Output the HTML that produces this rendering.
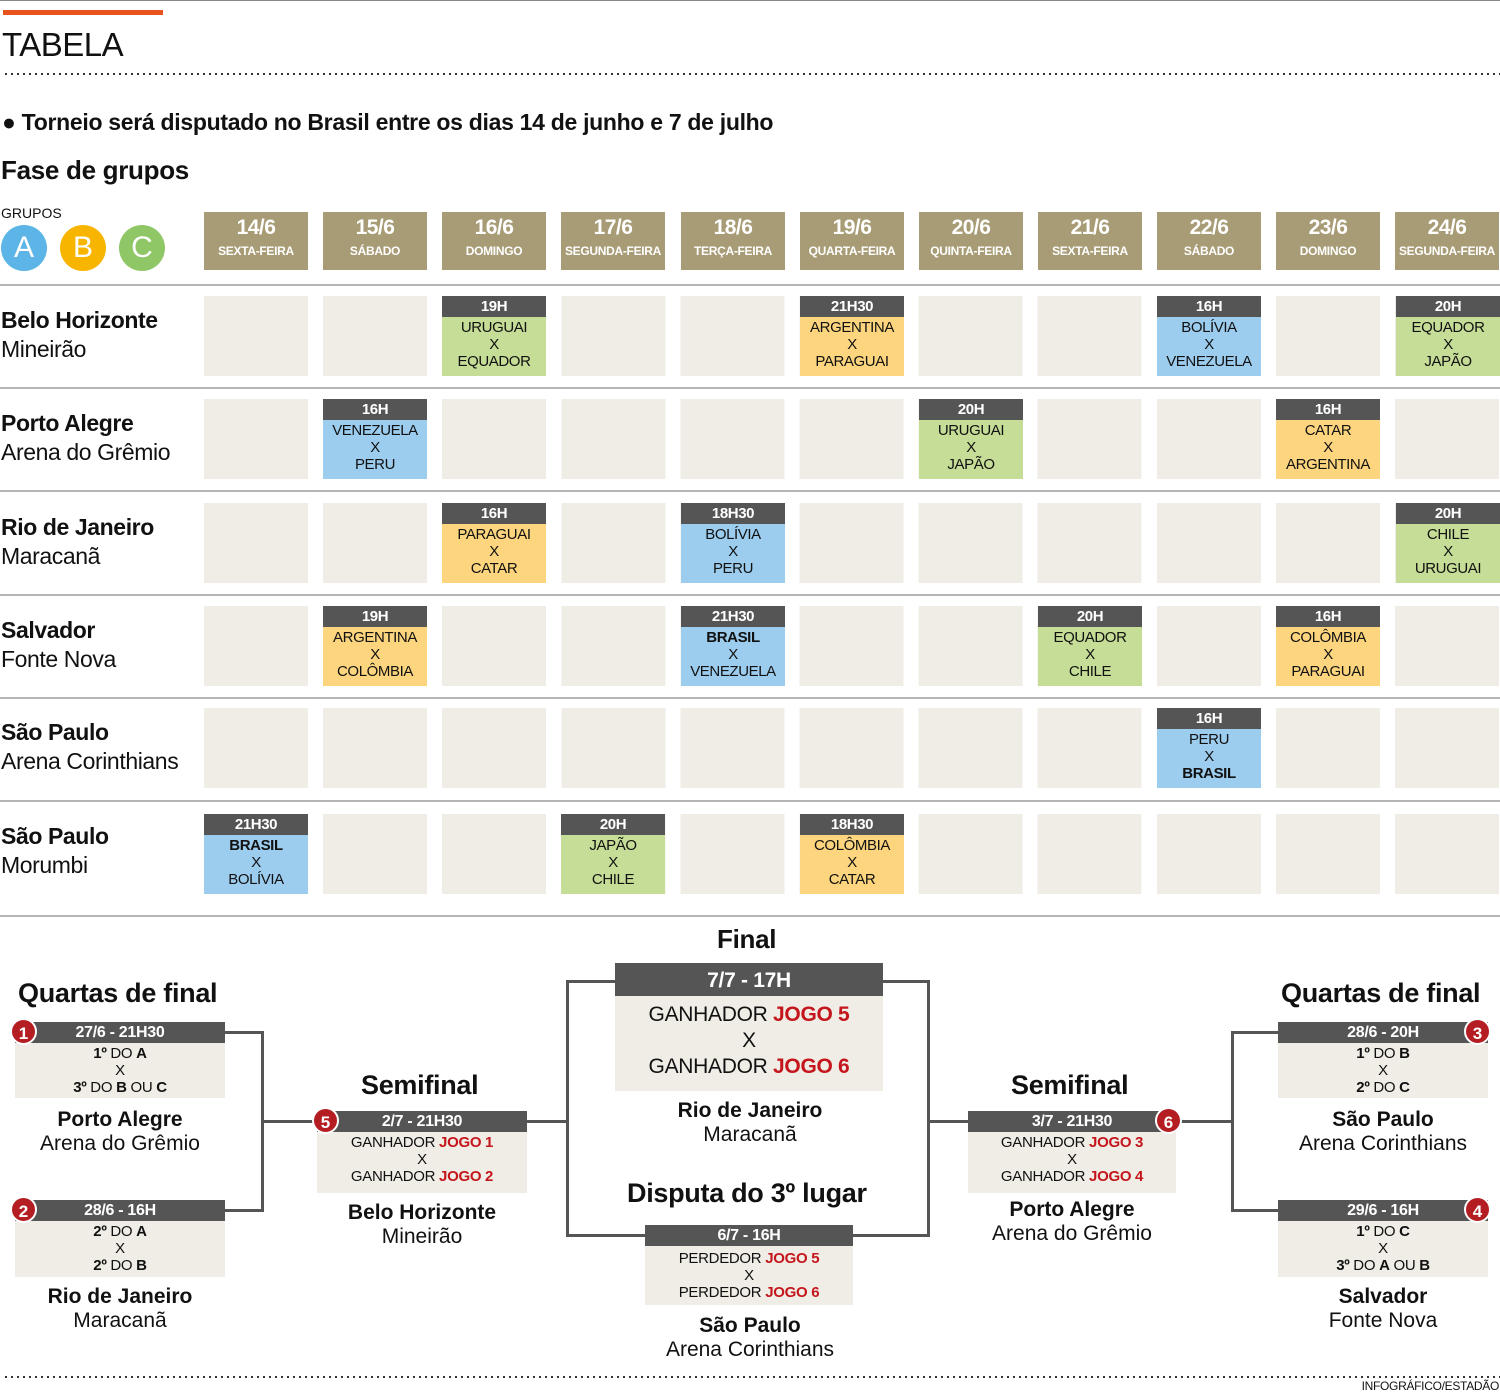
<!DOCTYPE html>
<html><head><meta charset="utf-8"><style>
*{margin:0;padding:0;box-sizing:border-box}
body{width:1500px;height:1392px;position:relative;background:#fff;font-family:"Liberation Sans",sans-serif;color:#111;overflow:hidden}
.a{position:absolute}
.c{position:absolute;text-align:center;white-space:nowrap}
.hd{position:absolute;width:104px;height:58px;top:212px;background:#a89c76;color:#fff;text-align:center}
.hd b{display:block;font-size:21px;line-height:22px;margin-top:5px;letter-spacing:-0.5px}
.hd span{display:block;font-size:12px;font-weight:bold;margin-top:5px;letter-spacing:-0.3px}
.row{position:absolute;left:204px;width:1296px;height:80px;background:repeating-linear-gradient(90deg,#f0ede6 0 104px,#fff 104px 119.1px)}
.sep{position:absolute;left:0;width:1500px;height:2px;background:#b5b5b5}
.m{position:absolute;width:104px;height:80px;text-align:center;font-size:15px;line-height:17px;letter-spacing:-0.4px}
.m .h{height:21px;background:#555;color:#fff;font-weight:bold;font-size:15px;line-height:22px}
.m .bd{padding-top:2px;height:59px}
.g .bd{background:#c5dd96}.y .bd{background:#fcd57e}.bl .bd{background:#9ccdef}
.city{position:absolute;left:1px;font-size:23px;line-height:29px;letter-spacing:-0.4px}
.city b{display:block}
.bx{position:absolute;background:#f0ede6;text-align:center;font-size:15px;line-height:17px;letter-spacing:-0.3px}
.bx .h{background:#555;color:#fff;font-weight:bold;height:21px;line-height:22px;font-size:16px}
.r{color:#c4161c;font-weight:bold}
.num{position:absolute;width:27px;height:27px;border-radius:50%;background:#b41e23;color:#fff;font-weight:bold;font-size:17px;line-height:27px;text-align:center;border:2px solid #fff}
.ln{position:absolute;background:#555}
.ttl{position:absolute;font-size:27px;font-weight:bold;white-space:nowrap;letter-spacing:-0.3px}
.pl{position:absolute;text-align:center;font-size:21px;line-height:24px;white-space:nowrap}
.dot{position:absolute;left:5px;width:1495px;height:2px;background:repeating-linear-gradient(90deg,#333 0 2px,transparent 2px 6px)}
</style></head><body>
<div class="a" style="left:0;top:0;width:1500px;height:1px;background:#888"></div>
<div class="a" style="left:3px;top:10px;width:160px;height:5px;background:#e8531c"></div>
<div class="a" style="left:2px;top:26px;font-size:33px;letter-spacing:-0.5px">TABELA</div>
<div class="dot" style="top:73px"></div>
<div class="a" style="left:2px;top:109px;font-size:23px;font-weight:bold;letter-spacing:-0.3px">● Torneio será disputado no Brasil entre os dias 14 de junho e 7 de julho</div>
<div class="a" style="left:1px;top:155px;font-size:26px;font-weight:bold;letter-spacing:-0.3px">Fase de grupos</div>
<div class="a" style="left:1px;top:205px;font-size:14px">GRUPOS</div>
<div class="c" style="left:1px;top:225px;width:46px;height:46px;border-radius:50%;background:#5db4e6;color:#fff;font-size:30px;line-height:46px">A</div>
<div class="c" style="left:60px;top:225px;width:46px;height:46px;border-radius:50%;background:#f7b500;color:#fff;font-size:30px;line-height:46px">B</div>
<div class="c" style="left:119px;top:225px;width:46px;height:46px;border-radius:50%;background:#8fc767;color:#fff;font-size:30px;line-height:46px">C</div>

<div class="hd" style="left:204px"><b>14/6</b><span>SEXTA-FEIRA</span></div>
<div class="hd" style="left:323px"><b>15/6</b><span>SÁBADO</span></div>
<div class="hd" style="left:442px"><b>16/6</b><span>DOMINGO</span></div>
<div class="hd" style="left:561px"><b>17/6</b><span>SEGUNDA-FEIRA</span></div>
<div class="hd" style="left:681px"><b>18/6</b><span>TERÇA-FEIRA</span></div>
<div class="hd" style="left:800px"><b>19/6</b><span>QUARTA-FEIRA</span></div>
<div class="hd" style="left:919px"><b>20/6</b><span>QUINTA-FEIRA</span></div>
<div class="hd" style="left:1038px"><b>21/6</b><span>SEXTA-FEIRA</span></div>
<div class="hd" style="left:1157px"><b>22/6</b><span>SÁBADO</span></div>
<div class="hd" style="left:1276px"><b>23/6</b><span>DOMINGO</span></div>
<div class="hd" style="left:1395px"><b>24/6</b><span>SEGUNDA-FEIRA</span></div>

<div class="sep" style="top:284px"></div>
<div class="sep" style="top:387px"></div>
<div class="sep" style="top:490px"></div>
<div class="sep" style="top:594px"></div>
<div class="sep" style="top:697px"></div>
<div class="sep" style="top:800px"></div>
<div class="sep" style="top:915px"></div>

<div class="row" style="top:296px"></div>
<div class="row" style="top:399px"></div>
<div class="row" style="top:503px"></div>
<div class="row" style="top:606px"></div>
<div class="row" style="top:708px"></div>
<div class="row" style="top:814px"></div>

<div class="city" style="top:306px"><b>Belo Horizonte</b>Mineirão</div>
<div class="city" style="top:409px"><b>Porto Alegre</b>Arena do Grêmio</div>
<div class="city" style="top:513px"><b>Rio de Janeiro</b>Maracanã</div>
<div class="city" style="top:616px"><b>Salvador</b>Fonte Nova</div>
<div class="city" style="top:718px"><b>São Paulo</b>Arena Corinthians</div>
<div class="city" style="top:822px"><b>São Paulo</b>Morumbi</div>

<div class="m g" style="left:442px;top:296px"><div class="h">19H</div><div class="bd">URUGUAI<br>X<br>EQUADOR</div></div>
<div class="m y" style="left:800px;top:296px"><div class="h">21H30</div><div class="bd">ARGENTINA<br>X<br>PARAGUAI</div></div>
<div class="m bl" style="left:1157px;top:296px"><div class="h">16H</div><div class="bd">BOLÍVIA<br>X<br>VENEZUELA</div></div>
<div class="m g" style="left:1396px;top:296px"><div class="h">20H</div><div class="bd">EQUADOR<br>X<br>JAPÃO</div></div>

<div class="m bl" style="left:323px;top:399px"><div class="h">16H</div><div class="bd">VENEZUELA<br>X<br>PERU</div></div>
<div class="m g" style="left:919px;top:399px"><div class="h">20H</div><div class="bd">URUGUAI<br>X<br>JAPÃO</div></div>
<div class="m y" style="left:1276px;top:399px"><div class="h">16H</div><div class="bd">CATAR<br>X<br>ARGENTINA</div></div>

<div class="m y" style="left:442px;top:503px"><div class="h">16H</div><div class="bd">PARAGUAI<br>X<br>CATAR</div></div>
<div class="m bl" style="left:681px;top:503px"><div class="h">18H30</div><div class="bd">BOLÍVIA<br>X<br>PERU</div></div>
<div class="m g" style="left:1396px;top:503px"><div class="h">20H</div><div class="bd">CHILE<br>X<br>URUGUAI</div></div>

<div class="m y" style="left:323px;top:606px"><div class="h">19H</div><div class="bd">ARGENTINA<br>X<br>COLÔMBIA</div></div>
<div class="m bl" style="left:681px;top:606px"><div class="h">21H30</div><div class="bd"><b>BRASIL</b><br>X<br>VENEZUELA</div></div>
<div class="m g" style="left:1038px;top:606px"><div class="h">20H</div><div class="bd">EQUADOR<br>X<br>CHILE</div></div>
<div class="m y" style="left:1276px;top:606px"><div class="h">16H</div><div class="bd">COLÔMBIA<br>X<br>PARAGUAI</div></div>

<div class="m bl" style="left:1157px;top:708px"><div class="h">16H</div><div class="bd">PERU<br>X<br><b>BRASIL</b></div></div>

<div class="m bl" style="left:204px;top:814px"><div class="h">21H30</div><div class="bd"><b>BRASIL</b><br>X<br>BOLÍVIA</div></div>
<div class="m g" style="left:561px;top:814px"><div class="h">20H</div><div class="bd">JAPÃO<br>X<br>CHILE</div></div>
<div class="m y" style="left:800px;top:814px"><div class="h">18H30</div><div class="bd">COLÔMBIA<br>X<br>CATAR</div></div>

<!-- bracket lines -->
<div class="ln" style="left:225px;top:1031px;width:39px;height:3px"></div>
<div class="ln" style="left:225px;top:1209px;width:39px;height:3px"></div>
<div class="ln" style="left:261px;top:1031px;width:3px;height:181px"></div>
<div class="ln" style="left:261px;top:1120px;width:56px;height:3px"></div>
<div class="ln" style="left:527px;top:1120px;width:42px;height:3px"></div>
<div class="ln" style="left:566px;top:980px;width:3px;height:257px"></div>
<div class="ln" style="left:566px;top:980px;width:50px;height:3px"></div>
<div class="ln" style="left:566px;top:1234px;width:80px;height:3px"></div>
<div class="ln" style="left:927px;top:980px;width:3px;height:257px"></div>
<div class="ln" style="left:883px;top:980px;width:47px;height:3px"></div>
<div class="ln" style="left:853px;top:1234px;width:77px;height:3px"></div>
<div class="ln" style="left:927px;top:1120px;width:41px;height:3px"></div>
<div class="ln" style="left:1176px;top:1120px;width:58px;height:3px"></div>
<div class="ln" style="left:1231px;top:1031px;width:3px;height:181px"></div>
<div class="ln" style="left:1231px;top:1031px;width:47px;height:3px"></div>
<div class="ln" style="left:1231px;top:1209px;width:47px;height:3px"></div>

<div class="ttl" style="left:18px;top:978px">Quartas de final</div>
<div class="ttl" style="left:1281px;top:978px">Quartas de final</div>
<div class="ttl" style="left:361px;top:1070px">Semifinal</div>
<div class="ttl" style="left:1011px;top:1070px">Semifinal</div>
<div class="ttl" style="left:717px;top:924px;font-size:26px">Final</div>
<div class="ttl" style="left:627px;top:1178px">Disputa do 3º lugar</div>

<div class="bx" style="left:15px;top:1022px;width:210px;height:76px"><div class="h">27/6 - 21H30</div><div style="padding-top:2px"><b>1º</b> DO <b>A</b><br>X<br><b>3º</b> DO <b>B</b> OU <b>C</b></div></div>
<div class="bx" style="left:15px;top:1200px;width:210px;height:77px"><div class="h">28/6 - 16H</div><div style="padding-top:2px"><b>2º</b> DO <b>A</b><br>X<br><b>2º</b> DO <b>B</b></div></div>
<div class="bx" style="left:1278px;top:1022px;width:210px;height:76px"><div class="h">28/6 - 20H</div><div style="padding-top:2px"><b>1º</b> DO <b>B</b><br>X<br><b>2º</b> DO <b>C</b></div></div>
<div class="bx" style="left:1278px;top:1200px;width:210px;height:77px"><div class="h">29/6 - 16H</div><div style="padding-top:2px"><b>1º</b> DO <b>C</b><br>X<br><b>3º</b> DO <b>A</b> OU <b>B</b></div></div>
<div class="bx" style="left:317px;top:1111px;width:210px;height:82px"><div class="h">2/7 - 21H30</div><div style="padding-top:2px">GANHADOR <span class="r">JOGO 1</span><br>X<br>GANHADOR <span class="r">JOGO 2</span></div></div>
<div class="bx" style="left:968px;top:1111px;width:208px;height:82px"><div class="h">3/7 - 21H30</div><div style="padding-top:2px">GANHADOR <span class="r">JOGO 3</span><br>X<br>GANHADOR <span class="r">JOGO 4</span></div></div>
<div class="bx" style="left:645px;top:1225px;width:208px;height:80px"><div class="h">6/7 - 16H</div><div style="padding-top:4px">PERDEDOR <span class="r">JOGO 5</span><br>X<br>PERDEDOR <span class="r">JOGO 6</span></div></div>
<div class="bx" style="left:615px;top:963px;width:268px;height:128px;font-size:21px;line-height:26px"><div class="h" style="height:33px;line-height:36px;font-size:21px">7/7 - 17H</div><div style="padding-top:6px">GANHADOR <span class="r">JOGO 5</span><br>X<br>GANHADOR <span class="r">JOGO 6</span></div></div>

<div class="num" style="left:10px;top:1018px">1</div>
<div class="num" style="left:10px;top:1196px">2</div>
<div class="num" style="left:1464px;top:1018px">3</div>
<div class="num" style="left:1464px;top:1196px">4</div>
<div class="num" style="left:312px;top:1107px">5</div>
<div class="num" style="left:1155px;top:1107px">6</div>

<div class="pl" style="left:0;width:240px;top:1108px"><b>Porto Alegre</b><br>Arena do Grêmio</div>
<div class="pl" style="left:0;width:240px;top:1285px"><b>Rio de Janeiro</b><br>Maracanã</div>
<div class="pl" style="left:302px;width:240px;top:1201px"><b>Belo Horizonte</b><br>Mineirão</div>
<div class="pl" style="left:630px;width:240px;top:1099px"><b>Rio de Janeiro</b><br>Maracanã</div>
<div class="pl" style="left:630px;width:240px;top:1314px"><b>São Paulo</b><br>Arena Corinthians</div>
<div class="pl" style="left:952px;width:240px;top:1198px"><b>Porto Alegre</b><br>Arena do Grêmio</div>
<div class="pl" style="left:1263px;width:240px;top:1108px"><b>São Paulo</b><br>Arena Corinthians</div>
<div class="pl" style="left:1263px;width:240px;top:1285px"><b>Salvador</b><br>Fonte Nova</div>

<div class="dot" style="top:1376px"></div>
<div class="a" style="right:1px;top:1379px;font-size:12px;letter-spacing:-0.3px">INFOGRÁFICO/ESTADÃO</div>
</body></html>
